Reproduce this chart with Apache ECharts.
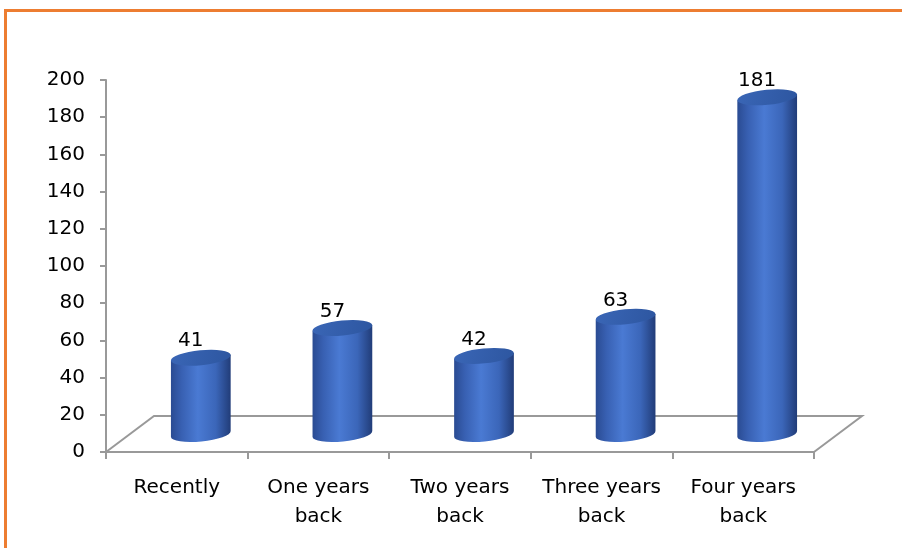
<!DOCTYPE html>
<html>
<head>
<meta charset="utf-8">
<script src="https://cdn.jsdelivr.net/npm/echarts@6/dist/echarts.min.js"></script>
<style>html,body{margin:0;padding:0;background:#fff;}#c{width:902px;height:548px;}</style>
</head>
<body>
<div id="c"></div>
<script>
const categories = ['Recently', 'One years\nback', 'Two years\nback', 'Three years\nback', 'Four years\nback'];
const values = [41, 57, 42, 63, 181];
const yMin = 0, yMax = 200, yInterval = 20;

const FONT = 'DejaVu Sans';
const DEPTH_X = 48, DEPTH_Y = -36;   // floor depth offset
const RX = 30, RY = 7.5, TILT = 5.5 * Math.PI / 180;

const chart = echarts.init(document.getElementById('c'), null, {renderer: 'canvas'});

function renderFloor(params, api) {
  const cs = params.coordSys;
  const x0 = cs.x, x1 = cs.x + cs.width, y0 = cs.y + cs.height;
  return {
    type: 'polyline',
    shape: {points: [[x0, y0], [x0 + DEPTH_X, y0 + DEPTH_Y], [x1 + DEPTH_X, y0 + DEPTH_Y], [x1, y0]]},
    style: {stroke: '#999999', lineWidth: 2, fill: null}
  };
}

function renderBar(params, api) {
  const idx = api.value(0), val = api.value(1);
  const base = api.coord([idx, 0]);
  const top = api.coord([idx, val]);
  const cx = base[0] + DEPTH_X / 2;
  const by = base[1] + DEPTH_Y / 2;
  const ty = top[1] + DEPTH_Y / 2;
  const c = Math.cos(TILT), s = Math.sin(TILT);
  const deg = -TILT * 180 / Math.PI;
  const lxT = cx - RX * c, lyT = ty + RX * s, rxT = cx + RX * c, ryT = ty - RX * s;
  const lxB = cx - RX * c, lyB = by + RX * s, rxB = cx + RX * c, ryB = by - RX * s;
  const body = 'M' + lxT + ' ' + lyT + ' L' + lxB + ' ' + lyB +
    ' A' + RX + ' ' + RY + ' ' + deg + ' 0 0 ' + rxB + ' ' + ryB +
    ' L' + rxT + ' ' + ryT + ' Z';
  const cap = 'M' + lxT + ' ' + lyT +
    ' A' + RX + ' ' + RY + ' ' + deg + ' 0 0 ' + rxT + ' ' + ryT +
    ' A' + RX + ' ' + RY + ' ' + deg + ' 0 0 ' + lxT + ' ' + lyT + ' Z';
  const bodyGrad = new echarts.graphic.LinearGradient(0, 0, 1, 0, [
    {offset: 0, color: '#2a4b92'},
    {offset: 0.18, color: '#3860b2'},
    {offset: 0.45, color: '#4a7ad3'},
    {offset: 0.75, color: '#3b66b9'},
    {offset: 1, color: '#213c78'}
  ]);
  const capGrad = new echarts.graphic.LinearGradient(0, 0, 1, 1, [
    {offset: 0, color: '#3a66b6'},
    {offset: 1, color: '#2d56a0'}
  ]);
  return {
    type: 'group',
    children: [
      {type: 'path', shape: {pathData: body}, style: {fill: bodyGrad}},
      {type: 'path', shape: {pathData: cap}, style: {fill: capGrad}},
      {type: 'text', style: {
        text: String(val), x: cx - 10, y: ty - RY + 1,
        textAlign: 'center', textVerticalAlign: 'bottom',
        font: '20px "' + FONT + '"', fill: '#000'
      }}
    ]
  };
}

const option = {
  backgroundColor: '#ffffff',
  animation: false,
  graphic: [{
    type: 'rect', silent: true, z: 100,
    shape: {x: 5.5, y: 10.5, width: 1000, height: 1000},
    style: {fill: null, stroke: '#ED7D31', lineWidth: 3}
  }],
  grid: {left: 106, right: 88, top: 80, bottom: 96},
  xAxis: {
    type: 'category',
    data: categories,
    axisLine: {show: true, lineStyle: {color: '#999999', width: 2}},
    axisTick: {show: true, alignWithLabel: false, length: 7, lineStyle: {color: '#999999', width: 2}},
    axisLabel: {fontFamily: FONT, fontSize: 20, color: '#000', lineHeight: 29, margin: 21, interval: 0}
  },
  yAxis: {
    type: 'value',
    min: yMin, max: yMax, interval: yInterval,
    splitLine: {show: false},
    axisLine: {show: true, lineStyle: {color: '#999999', width: 2}},
    axisTick: {show: true, length: 6, lineStyle: {color: '#999999', width: 2}},
    axisLabel: {fontFamily: FONT, fontSize: 20, color: '#000', margin: 21, padding: [6, 0, 0, 0]}
  },
  series: [
    {
      type: 'custom', name: 'floor', renderItem: renderFloor, data: [[0, 0]],
      encode: {x: 0, y: 1}, z: 1, silent: true
    },
    {
      type: 'custom', name: 'bars', renderItem: renderBar,
      data: values.map((v, i) => [i, v]),
      encode: {x: 0, y: 1}, z: 2
    }
  ]
};
chart.setOption(option);
</script>
</body>
</html>
